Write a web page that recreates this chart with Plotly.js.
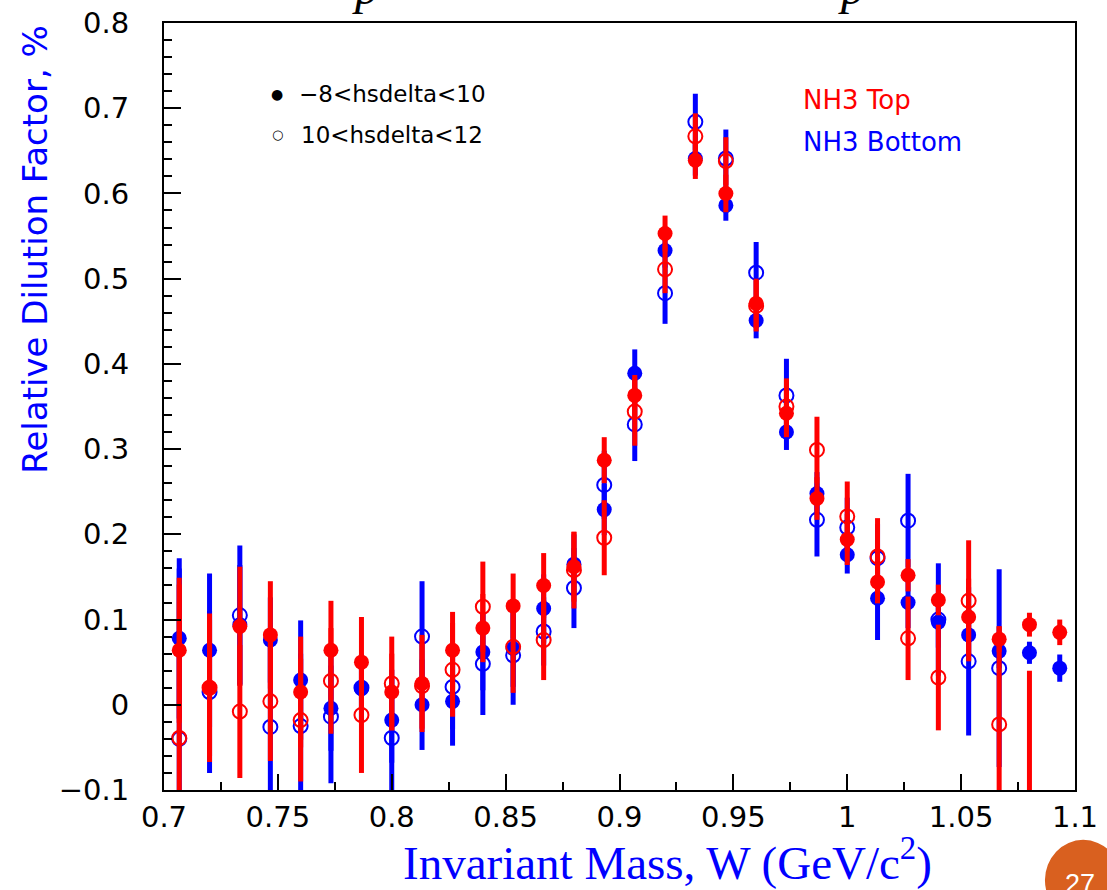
<!DOCTYPE html>
<html>
<head>
<meta charset="utf-8">
<script src="https://cdn.plot.ly/plotly-3.0.1.min.js"></script>
<style>html,body{margin:0;padding:0;background:#fff}#chart{width:1107px;height:890px}</style>
</head>
<body>
<div id="chart"></div>
<script>
// Bin centres of invariant mass W (GeV/c^2)
const W = [0.7067, 0.7200, 0.7333, 0.7467, 0.7600, 0.7733, 0.7867, 0.8000, 0.8133, 0.8267,
           0.8400, 0.8533, 0.8667, 0.8800, 0.8933, 0.9067, 0.9200, 0.9333, 0.9467, 0.9600,
           0.9733, 0.9867, 1.0000, 1.0133, 1.0267, 1.0400, 1.0533, 1.0667, 1.0800, 1.0933];

// NH3 Top, -8<hsdelta<10 (filled)
const topFilled    = [0.064, 0.020, 0.092, 0.082, 0.015, 0.064, 0.050, 0.015, 0.025, 0.064,
                      0.090, 0.116, 0.140, 0.162, 0.287, 0.363, 0.553, 0.639, 0.600, 0.471,
                      0.342, 0.242, 0.194, 0.144, 0.152, 0.123, 0.103, 0.077, 0.094, 0.085];
const topFilledErr = [0.085, 0.087, 0.070, 0.063, 0.065, 0.058, 0.053, 0.045, 0.057, 0.045,
                      0.040, 0.038, 0.038, 0.041, 0.027, 0.024, 0.021, 0.022, 0.022, 0.029,
                      0.028, 0.025, 0.030, 0.025, 0.019, 0.018, 0.045, 0.015, 0.014, 0.015];
// NH3 Top, 10<hsdelta<12 (open)
const topOpen      = [-0.039, 0.020, -0.008, 0.004, -0.018, 0.028, -0.012, 0.025, 0.022, 0.041,
                      0.115, 0.068, 0.076, 0.158, 0.196, 0.344, 0.511, 0.667, 0.638, 0.468,
                      0.350, 0.299, 0.221, 0.174, 0.078, 0.032, 0.122, -0.023, -0.150, null];
const topOpenErr   = [0.180, 0.080, 0.078, 0.070, 0.072, 0.062, 0.068, 0.055, 0.050, 0.055,
                      0.053, 0.054, 0.047, 0.045, 0.044, 0.040, 0.028, 0.027, 0.028, 0.030,
                      0.033, 0.039, 0.041, 0.045, 0.049, 0.062, 0.071, 0.115, 0.190, null];
// NH3 Bottom, -8<hsdelta<10 (filled)
const bottomFilled    = [0.078, 0.064, 0.094, 0.076, 0.029, -0.004, 0.019, -0.018, 0.000, 0.004,
                         0.062, 0.066, 0.113, 0.165, 0.229, 0.389, 0.533, 0.641, 0.586, 0.451,
                         0.320, 0.248, 0.176, 0.125, 0.120, 0.097, 0.082, 0.063, 0.061, 0.043];
const bottomFilledErr = [0.094, 0.090, 0.070, 0.050, 0.070, 0.050, 0.040, 0.050, 0.053, 0.052,
                         0.045, 0.045, 0.040, 0.035, 0.030, 0.028, 0.020, 0.020, 0.018, 0.021,
                         0.021, 0.025, 0.022, 0.049, 0.030, 0.030, 0.030, 0.020, 0.013, 0.016];
// NH3 Bottom, 10<hsdelta<12 (open)
const bottomOpen      = [-0.040, 0.015, 0.105, -0.026, -0.025, -0.014, 0.020, -0.039, 0.080, 0.021,
                         0.048, 0.058, 0.086, 0.137, 0.258, 0.329, 0.483, 0.684, 0.641, 0.507,
                         0.363, 0.217, 0.208, 0.172, 0.216, 0.100, 0.051, 0.043, null, null];
const bottomOpenErr   = [0.200, 0.095, 0.082, 0.100, 0.085, 0.078, 0.040, 0.080, 0.065, 0.050,
                         0.060, 0.058, 0.040, 0.047, 0.040, 0.043, 0.036, 0.033, 0.034, 0.036,
                         0.043, 0.043, 0.035, 0.040, 0.055, 0.066, 0.087, 0.116, null, null];

const xTickVals = [0.7, 0.75, 0.8, 0.85, 0.9, 0.95, 1.0, 1.05, 1.1];
const xTickText = ['0.7', '0.75', '0.8', '0.85', '0.9', '0.95', '1', '1.05', '1.1'];
const yTickVals = [-0.1, 0, 0.1, 0.2, 0.3, 0.4, 0.5, 0.6, 0.7, 0.8];
const yTickText = ['\u22120.1', '0', '0.1', '0.2', '0.3', '0.4', '0.5', '0.6', '0.7', '0.8'];

const RED = '#ff0000', BLUE = '#0000ff';

function series(y, err, color, open) {
  return {
    type: 'scatter', mode: 'markers', x: W, y: y,
    error_y: {type: 'data', array: err, visible: true, color: color, thickness: 5, width: 0},
    marker: open
      ? {symbol: 'circle-open', size: 14, color: color, line: {color: color, width: 2}}
      : {symbol: 'circle', size: 15, color: color, line: {width: 0}},
    showlegend: false, hoverinfo: 'x+y', cliponaxis: true
  };
}

const data = [
  series(bottomOpen, bottomOpenErr, BLUE, true),
  series(bottomFilled, bottomFilledErr, BLUE, false),
  series(topOpen, topOpenErr, RED, true),
  series(topFilled, topFilledErr, RED, false)
];

const ROOTFONT = 'DejaVu Sans';
const layout = {
  width: 1107, height: 890,
  margin: {l: 164, r: 32, t: 23, b: 100, pad: 0},
  paper_bgcolor: '#ffffff', plot_bgcolor: '#ffffff',
  showlegend: false,
  xaxis: {
    range: [0.7, 1.1], tickmode: 'array', tickvals: xTickVals, ticktext: xTickText,
    ticks: 'inside', ticklen: 16, tickwidth: 2, tickcolor: '#000',
    minor: {tickmode: 'linear', tick0: 0.7, dtick: 0.025, ticks: 'inside', ticklen: 8, tickwidth: 2, tickcolor: '#000', showgrid: false},
    showline: true, linecolor: '#000', linewidth: 2, mirror: true,
    showgrid: false, zeroline: false,
    tickfont: {family: ROOTFONT, size: 29, color: '#000'}
  },
  yaxis: {
    range: [-0.1, 0.8], tickmode: 'array', tickvals: yTickVals, ticktext: yTickText,
    ticks: 'inside', ticklen: 17, tickwidth: 2, tickcolor: '#000',
    minor: {tickmode: 'linear', tick0: 0, dtick: 0.02, ticks: 'inside', ticklen: 8, tickwidth: 2, tickcolor: '#000', showgrid: false},
    showline: true, linecolor: '#000', linewidth: 2, mirror: true,
    showgrid: false, zeroline: false,
    ticklabelstandoff: 27,
    tickfont: {family: ROOTFONT, size: 29, color: '#000'}
  },
  shapes: [
    {type: 'circle', xref: 'paper', yref: 'paper', x0: 0.967, x1: 1.051, y0: -0.170, y1: -0.065,
     fillcolor: '#d9601f', line: {width: 0}, layer: 'above'}
  ],
  annotations: [
    {text: 'Relative Dilution Factor, %', xref: 'paper', yref: 'paper', x: -0.142, y: 0.704,
     xanchor: 'center', yanchor: 'middle', textangle: -90, showarrow: false,
     font: {family: ROOTFONT, size: 34, color: BLUE}},
    {text: 'Invariant Mass, W (GeV/c<sup>2</sup>)', xref: 'paper', yref: 'paper', x: 0.553, y: -0.091,
     xanchor: 'center', yanchor: 'middle', showarrow: false,
     font: {family: 'Liberation Serif', size: 47, color: BLUE}},
    {text: '\u25CF', xref: 'paper', yref: 'paper', x: 0.1245, y: 0.908, xanchor: 'center', yanchor: 'middle',
     showarrow: false, font: {family: ROOTFONT, size: 14, color: '#000'}},
    {text: '\u2212' + '8<hsdelta<10', xref: 'paper', yref: 'paper', x: 0.146, y: 0.907, xanchor: 'left', yanchor: 'middle',
     showarrow: false, font: {family: ROOTFONT, size: 23, color: '#000'}},
    {text: '\u25CB', xref: 'paper', yref: 'paper', x: 0.1245, y: 0.854, xanchor: 'center', yanchor: 'middle',
     showarrow: false, font: {family: ROOTFONT, size: 13, color: '#000'}},
    {text: '10<hsdelta<12', xref: 'paper', yref: 'paper', x: 0.148, y: 0.854, xanchor: 'left', yanchor: 'middle',
     showarrow: false, font: {family: ROOTFONT, size: 23, color: '#000'}},
    {text: 'NH3 Top', xref: 'paper', yref: 'paper', x: 0.699, y: 0.899, xanchor: 'left', yanchor: 'middle',
     showarrow: false, font: {family: ROOTFONT, size: 26, color: RED}},
    {text: 'NH3 Bottom', xref: 'paper', yref: 'paper', x: 0.699, y: 0.845, xanchor: 'left', yanchor: 'middle',
     showarrow: false, font: {family: ROOTFONT, size: 26, color: BLUE}},
    {text: '<i>p</i>', xref: 'paper', yref: 'paper', x: 0.221, y: 1.046, xanchor: 'center', yanchor: 'middle',
     showarrow: false, font: {family: 'Liberation Serif', size: 48, color: '#000'}},
    {text: '<i>p</i>', xref: 'paper', yref: 'paper', x: 0.755, y: 1.046, xanchor: 'center', yanchor: 'middle',
     showarrow: false, font: {family: 'Liberation Serif', size: 48, color: '#000'}},
    {text: '27', xref: 'paper', yref: 'paper', x: 1.005, y: -0.122, xanchor: 'center', yanchor: 'middle',
     showarrow: false, font: {family: 'Liberation Sans', size: 27, color: '#ffffff'}}
  ]
};

Plotly.newPlot('chart', data, layout, {staticPlot: true, displayModeBar: false});
</script>
</body>
</html>
